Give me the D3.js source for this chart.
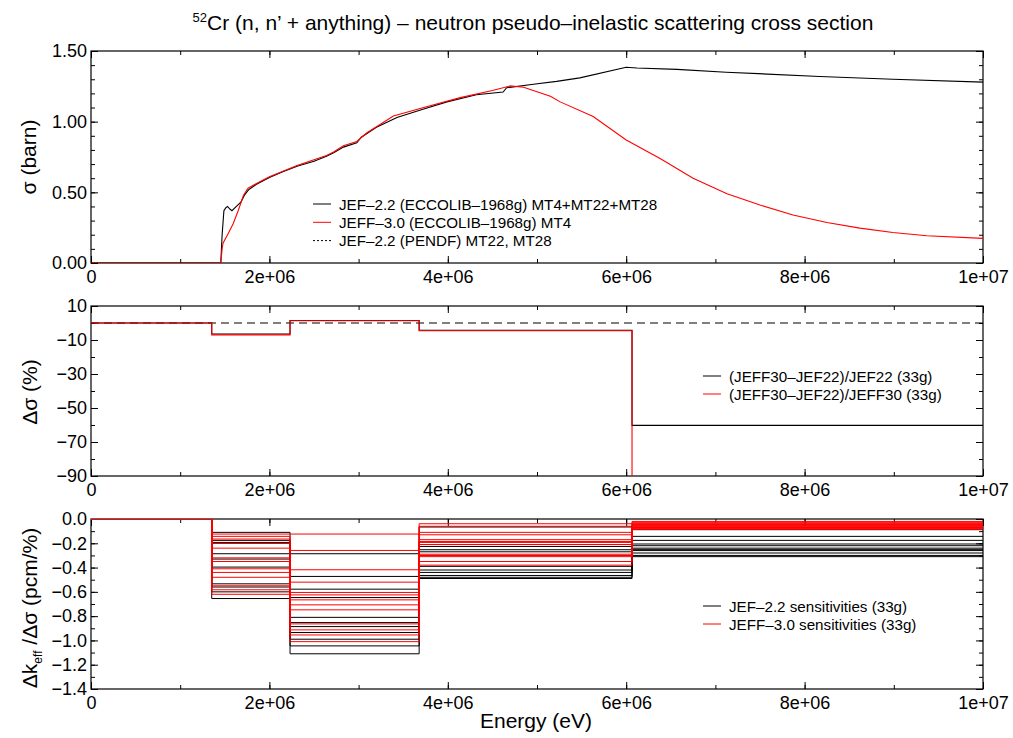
<!DOCTYPE html>
<html>
<head>
<meta charset="utf-8">
<script src="https://cdn.jsdelivr.net/npm/d3@7"></script>
<style>
  body { margin: 0; background: #fff; }
  svg { font-family: "Liberation Sans", Arial, Helvetica, sans-serif; }
</style>
</head>
<body>
<svg width="1013" height="738"></svg>
<script>
// ---- data ----
// top panel: cross sections (energy in eV, sigma in barn)
var jef22E = [0, 1.455e6, 1.47e6, 1.49e6, 1.51e6, 1.53e6, 1.56e6, 1.58e6, 1.63e6, 1.68e6, 1.72e6, 1.77e6, 1.85e6,
  2.0e6, 2.15e6, 2.31e6, 2.5e6, 2.64e6, 2.72e6, 2.83e6, 2.98e6, 3.03e6, 3.2e6, 3.43e6, 3.73e6, 3.99e6, 4.32e6,
  4.62e6, 4.66e6, 4.96e6, 5.22e6, 5.48e6, 6.0e6, 6.12e6, 6.57e6, 7.12e6, 8.17e6, 8.99e6, 1.0e7];
var jef22Sigma = [0, 0, 0.20, 0.37, 0.39, 0.40, 0.38, 0.37, 0.40, 0.43, 0.48, 0.52, 0.555,
  0.605, 0.645, 0.685, 0.72, 0.755, 0.78, 0.82, 0.85, 0.89, 0.96, 1.03, 1.09, 1.14, 1.19,
  1.21, 1.24, 1.265, 1.285, 1.31, 1.385, 1.38, 1.37, 1.35, 1.32, 1.30, 1.28];

var jeff30E = [0, 1.455e6, 1.47e6, 1.48e6, 1.54e6, 1.595e6, 1.65e6, 1.71e6, 1.76e6, 1.85e6, 2.0e6, 2.31e6, 2.64e6,
  2.72e6, 2.83e6, 2.98e6, 3.09e6, 3.39e6, 3.73e6, 4.14e6, 4.5e6, 4.70e6, 4.85e6, 5.15e6, 5.26e6, 5.63e6, 6.0e6,
  6.38e6, 6.75e6, 7.13e6, 7.5e6, 7.87e6, 8.25e6, 8.62e6, 8.99e6, 9.37e6, 1.0e7];
var jeff30Sigma = [0, 0, 0.10, 0.14, 0.21, 0.28, 0.37, 0.48, 0.53, 0.56, 0.61, 0.69, 0.76,
  0.785, 0.83, 0.86, 0.92, 1.04, 1.10, 1.17, 1.22, 1.253, 1.244, 1.18, 1.14, 1.036, 0.87,
  0.74, 0.60, 0.49, 0.41, 0.34, 0.287, 0.247, 0.216, 0.193, 0.174];

// 33-group boundaries inside the plotted range
var groupBounds = [0, 1.3534e6, 2.2313e6, 3.6788e6, 6.0653e6, 1e7];

// middle panel: relative differences (%) per group
var diffRelJef22 = [0, -6.5, 1.5, -4.3, -60.2];
var diffRelJeff30 = [0, -7.0, 1.3, -4.6, -150];

// bottom panel: sensitivity profiles (pcm/%) per group
var jef22Sens = [
  [0, -0.110, -0.286, -0.066, -0.088],
  [0, -0.176, -0.473, -0.226, -0.143],
  [0, -0.193, -0.578, -0.253, -0.176],
  [0, -0.200, -0.647, -0.270, -0.206],
  [0, -0.286, -0.810, -0.300, -0.220],
  [0, -0.330, -0.853, -0.390, -0.240],
  [0, -0.396, -0.886, -0.420, -0.250],
  [0, -0.534, -0.935, -0.440, -0.260],
  [0, -0.560, -0.990, -0.465, -0.280],
  [0, -0.600, -1.045, -0.480, -0.300],
  [0, -0.655, -1.110, -0.490, -0.310]
];
var jeff30Sens = [
  [0, -0.124, -0.124, -0.039, -0.020],
  [0, -0.143, -0.259, -0.060, -0.030],
  [0, -0.165, -0.418, -0.110, -0.038],
  [0, -0.200, -0.520, -0.130, -0.045],
  [0, -0.240, -0.605, -0.170, -0.050],
  [0, -0.320, -0.625, -0.185, -0.055],
  [0, -0.350, -0.666, -0.193, -0.060],
  [0, -0.410, -0.707, -0.210, -0.065],
  [0, -0.440, -0.748, -0.290, -0.070],
  [0, -0.480, -0.864, -0.300, -0.072],
  [0, -0.550, -0.913, -0.310, -0.075],
  [0, -0.583, -0.955, -0.350, -0.080],
  [0, -0.620, -1.010, -0.380, -0.085]
];

// tick values
var xMajor = [0, 2e6, 4e6, 6e6, 8e6, 1e7];
var xMinor = d3.range(0, 11).map(function(i) { return i * 1e6; });

var svg = d3.select("svg");
var left = 91, right = 983;
var tickFont = 18;

var x = d3.scaleLinear().domain([0, 1e7]).range([left, right]);

function expFormat(v) {
  if (v === 0) return "0";
  return v.toExponential(0).replace(/e([+-])(\d)$/, "e$10$2");
}

// draws frame, ticks (inward on all four sides) and labels for one panel
function drawPanel(id, top, bottom, yDomain, yMajor, yMinor, yFmt) {
  var y = d3.scaleLinear().domain(yDomain).range([bottom, top]);
  var g = svg.append("g").attr("class", "panel-" + id);

  svg.append("clipPath").attr("id", "clip-" + id)
    .append("rect").attr("x", left).attr("y", top)
    .attr("width", right - left).attr("height", bottom - top);

  function addAxis(axis, tx, ty) {
    var a = g.append("g").attr("transform", "translate(" + tx + "," + ty + ")").call(axis);
    a.select(".domain").remove();
    a.selectAll("line").attr("stroke", "#000");
    return a;
  }

  // minor ticks
  addAxis(d3.axisBottom(x).tickValues(xMinor).tickSize(-4).tickFormat(""), 0, bottom);
  addAxis(d3.axisTop(x).tickValues(xMinor).tickSize(-4).tickFormat(""), 0, top);
  addAxis(d3.axisLeft(y).tickValues(yMinor).tickSize(-4).tickFormat(""), left, 0);
  addAxis(d3.axisRight(y).tickValues(yMinor).tickSize(-4).tickFormat(""), right, 0);

  // major ticks with labels
  var xb = addAxis(d3.axisBottom(x).tickValues(xMajor).tickSize(-7).tickPadding(7).tickFormat(expFormat), 0, bottom);
  addAxis(d3.axisTop(x).tickValues(xMajor).tickSize(-7).tickFormat(""), 0, top);
  var yl = addAxis(d3.axisLeft(y).tickValues(yMajor).tickSize(-7).tickPadding(4).tickFormat(yFmt), left, 0);
  addAxis(d3.axisRight(y).tickValues(yMajor).tickSize(-7).tickFormat(""), right, 0);

  xb.selectAll("text").attr("font-size", tickFont).attr("fill", "#000").style("font-family", "inherit");
  yl.selectAll("text").attr("font-size", tickFont).attr("fill", "#000").style("font-family", "inherit");

  g.append("rect")
    .attr("x", left).attr("y", top)
    .attr("width", right - left).attr("height", bottom - top)
    .attr("fill", "none").attr("stroke", "#000").attr("stroke-width", 1.2);

  var data = svg.append("g").attr("clip-path", "url(#clip-" + id + ")");
  return { y: y, g: g, data: data };
}

function groupSteps(vals) {
  return groupBounds.map(function(b, i) {
    return { e: b, v: vals[Math.min(i, vals.length - 1)] };
  });
}

function addLegend(g, x0, y0, dy, items) {
  items.forEach(function(it, i) {
    var yy = y0 + i * dy;
    g.append("line")
      .attr("x1", x0).attr("x2", x0 + 18)
      .attr("y1", yy).attr("y2", yy)
      .attr("stroke", it.color).attr("stroke-width", 1)
      .attr("stroke-dasharray", it.dash || null);
    g.append("text")
      .attr("x", x0 + 26).attr("y", yy + 5.5)
      .attr("font-size", 15.2)
      .text(it.label);
  });
}

// ---- title ----
var title = svg.append("text")
  .attr("x", 533).attr("y", 30)
  .attr("text-anchor", "middle")
  .attr("font-size", 21);
title.append("tspan").attr("font-size", 13).attr("dy", -8).text("52");
title.append("tspan").attr("dy", 8).text("Cr (n, n’ + anything) – neutron pseudo–inelastic scattering cross section");

// ---- top panel ----
var p1 = drawPanel("top", 51, 263, [0, 1.5], [0, 0.5, 1.0, 1.5],
  d3.range(0, 16).map(function(i) { return i / 10; }), d3.format(".2f"));

var line1 = d3.line()
  .x(function(d) { return x(d[0]); })
  .y(function(d) { return p1.y(d[1]); });

p1.data.append("path")
  .datum(d3.zip(jef22E, jef22Sigma))
  .attr("d", line1)
  .attr("fill", "none").attr("stroke", "#000").attr("stroke-width", 1.1);
p1.data.append("path")
  .datum(d3.zip(jeff30E, jeff30Sigma))
  .attr("d", line1)
  .attr("fill", "none").attr("stroke", "#ff0000").attr("stroke-width", 1.1);

addLegend(p1.g, 313, 204, 18.3, [
  { color: "#000", label: "JEF–2.2 (ECCOLIB–1968g) MT4+MT22+MT28" },
  { color: "#ff0000", label: "JEFF–3.0 (ECCOLIB–1968g) MT4" },
  { color: "#000", dash: "2,2", label: "JEF–2.2 (PENDF) MT22, MT28" }
]);

svg.append("text")
  .attr("transform", "translate(36,157) rotate(-90)")
  .attr("text-anchor", "middle").attr("font-size", 21)
  .text("σ (barn)");

// ---- middle panel ----
var p2 = drawPanel("mid", 306, 476, [-90, 10], [-90, -70, -50, -30, -10, 10],
  d3.range(-90, 11, 10), d3.format("d"));

var stepLine2 = d3.line()
  .curve(d3.curveStepAfter)
  .x(function(d) { return x(d.e); })
  .y(function(d) { return p2.y(d.v); });

p2.data.append("line")
  .attr("x1", x(0)).attr("x2", x(1e7))
  .attr("y1", p2.y(0)).attr("y2", p2.y(0))
  .attr("stroke", "#000").attr("stroke-width", 1.1)
  .attr("stroke-dasharray", "8,5");
p2.data.append("path")
  .datum(groupSteps(diffRelJef22))
  .attr("d", stepLine2)
  .attr("fill", "none").attr("stroke", "#000").attr("stroke-width", 1.1);
p2.data.append("path")
  .datum(groupSteps(diffRelJeff30))
  .attr("d", stepLine2)
  .attr("fill", "none").attr("stroke", "#ff0000").attr("stroke-width", 1.1);

addLegend(p2.g, 703, 376, 18, [
  { color: "#000", label: "(JEFF30–JEF22)/JEF22 (33g)" },
  { color: "#ff0000", label: "(JEFF30–JEF22)/JEFF30 (33g)" }
]);

svg.append("text")
  .attr("transform", "translate(37,392) rotate(-90)")
  .attr("text-anchor", "middle").attr("font-size", 21)
  .text("Δσ (%)");

// ---- bottom panel ----
var p3 = drawPanel("bot", 519, 689, [-1.4, 0], d3.range(0, 8).map(function(i) { return -i * 0.2; }),
  d3.range(0, 15).map(function(i) { return -i / 10; }), d3.format(".1f"));

var stepLine3 = d3.line()
  .curve(d3.curveStepAfter)
  .x(function(d) { return x(d.e); })
  .y(function(d) { return p3.y(d.v); });

jef22Sens.forEach(function(s) {
  p3.data.append("path")
    .datum(groupSteps(s))
    .attr("d", stepLine3)
    .attr("fill", "none").attr("stroke", "#000").attr("stroke-width", 1);
});
jeff30Sens.forEach(function(s) {
  p3.data.append("path")
    .datum(groupSteps(s))
    .attr("d", stepLine3)
    .attr("fill", "none").attr("stroke", "#ff0000").attr("stroke-width", 1);
});

addLegend(p3.g, 703, 606, 18, [
  { color: "#000", label: "JEF–2.2 sensitivities (33g)" },
  { color: "#ff0000", label: "JEFF–3.0 sensitivities (33g)" }
]);

var ylab3 = svg.append("text")
  .attr("transform", "translate(37,608) rotate(-90)")
  .attr("text-anchor", "middle").attr("font-size", 21);
ylab3.append("tspan").text("Δk");
ylab3.append("tspan").attr("font-size", 12).attr("dy", 5).text("eff");
ylab3.append("tspan").attr("dy", -5).text(" /Δσ (pcm/%)");

// ---- x axis title ----
svg.append("text")
  .attr("x", 536).attr("y", 728)
  .attr("text-anchor", "middle").attr("font-size", 21)
  .text("Energy (eV)");
</script>
</body>
</html>
